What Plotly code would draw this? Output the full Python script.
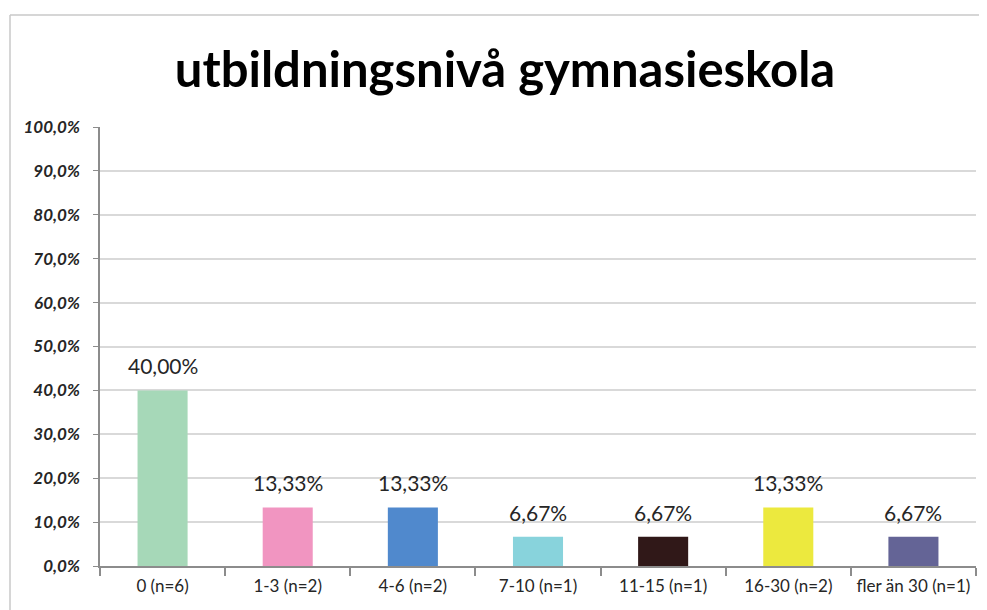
import plotly.graph_objects as go

categories = ["0 (n=6)", "1-3 (n=2)", "4-6 (n=2)", "7-10 (n=1)", "11-15 (n=1)", "16-30 (n=2)", "fler än 30 (n=1)"]
values = [0.40, 0.1333, 0.1333, 0.0667, 0.0667, 0.1333, 0.0667]
colors = ["#a6d8b8", "#f195c1", "#5089cd", "#88d3dc", "#301818", "#ece93e", "#646496"]
title_text = "utbildningsnivå gymnasieskola"
y_ticks = [0, 0.1, 0.2, 0.3, 0.4, 0.5, 0.6, 0.7, 0.8, 0.9, 1.0]

# page body has an 8px margin; figure sized to fit window exactly
OFF = 8
W, H = 987 - OFF, 610 - OFF
ml, mt = 100 - OFF, 127 - OFF
pw, ph = 876, 439
mr = W - ml - pw
mb = H - mt - ph

FONT = "Lato, Open Sans, sans-serif"

fig = go.Figure(go.Bar(
    x=categories, y=values,
    marker=dict(color=colors, line=dict(width=0)),
    width=0.4,
))

for c, v in zip(categories, values):
    fig.add_annotation(
        x=c, y=v, text=f"{v*100:.2f}%".replace(".", ","),
        showarrow=False, yanchor="bottom", yshift=10,
        font=dict(family=FONT, size=21, color="#262626"),
    )

fig.update_layout(
    width=W, height=H,
    margin=dict(l=ml, r=mr, t=mt, b=mb),
    paper_bgcolor="white", plot_bgcolor="white",
    separators=", ",
    showlegend=False,
    title=dict(text=title_text, x=(505 - OFF) / W, xanchor="center", xref="container",
               y=1 - (70 - OFF) / H, yanchor="middle",
               font=dict(family=FONT, size=49, color="#000000", weight="bold")),
    xaxis=dict(
        type="category", showgrid=False,
        showline=True, linecolor="#8c8c8c", linewidth=1.5,
        ticks="outside", tickson="boundaries", ticklen=8, tickcolor="#8c8c8c", tickwidth=1.5,
        ticklabelstandoff=4,
        tickfont=dict(family=FONT, size=17, color="#262626"),
    ),
    yaxis=dict(
        range=[0, 1.0], tickvals=y_ticks, tickformat=".1%",
        showgrid=True, gridcolor="#d9d9d9", gridwidth=1.5,
        showline=True, linecolor="#8c8c8c", linewidth=1.5,
        ticks="outside", ticklen=5, tickcolor="#8c8c8c",
        ticklabelstandoff=10,
        zeroline=False,
        tickfont=dict(family=FONT, size=17, color="#262626", style="italic", weight="bold"),
    ),
    shapes=[
        dict(type="line", xref="paper", yref="paper",
             x0=(10 - OFF - ml) / pw, x1=(W + 20 - ml) / pw,
             y0=(H - (15 - OFF) - mb) / ph, y1=(H - (15 - OFF) - mb) / ph,
             line=dict(color="#c8c8c8", width=1.5)),
        dict(type="line", xref="paper", yref="paper",
             x0=(10 - OFF - ml) / pw, x1=(10 - OFF - ml) / pw,
             y0=(H - (15 - OFF) - mb) / ph, y1=-(mb + 20) / ph,
             line=dict(color="#c8c8c8", width=1.5)),
    ],
)

fig.write_html("out.html")
